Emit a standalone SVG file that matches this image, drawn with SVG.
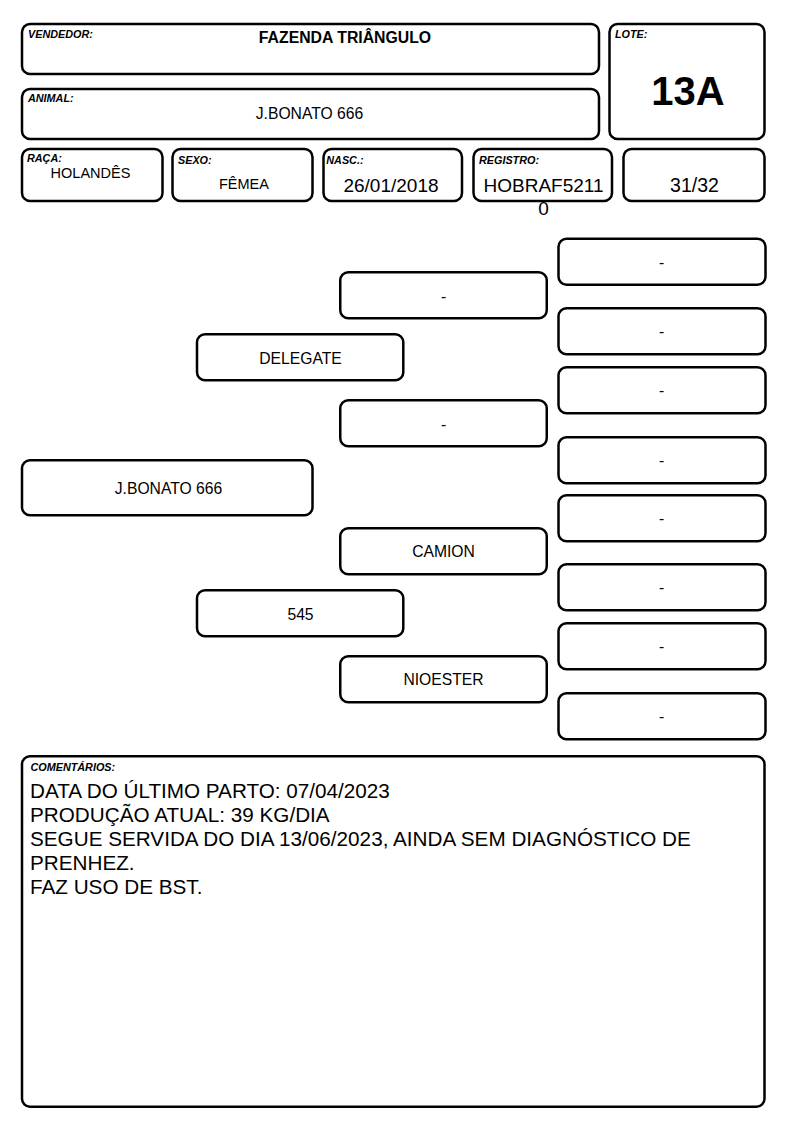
<svg xmlns="http://www.w3.org/2000/svg" width="794" height="1123" viewBox="0 0 794 1123">
<style>
.b{fill:#fff;stroke:#000;stroke-width:2.5}
.lb{font-family:"Liberation Sans",Arial,sans-serif;font-weight:bold;font-style:italic;font-size:10.8px;fill:#000}
.t{font-family:"Liberation Sans",Arial,sans-serif;font-size:15.7px;fill:#000;text-anchor:middle}
.m{font-family:"Liberation Sans",Arial,sans-serif;font-size:19px;fill:#000;text-anchor:middle}
.s{font-family:"Liberation Sans",Arial,sans-serif;font-size:14.5px;fill:#000;text-anchor:middle}
.c{font-family:"Liberation Sans",Arial,sans-serif;font-size:20.7px;fill:#000}
</style>
<rect width="794" height="1123" fill="#fff"/>
<g id="vendedor"><rect class="b" x="22" y="24" width="577" height="50" rx="8"/><text class="lb" x="28" y="38.3">VENDEDOR:</text><text class="t" x="345" y="43" style="font-weight:bold;font-size:15.8px">FAZENDA TRIÂNGULO</text></g>
<g id="animal"><rect class="b" x="22" y="89" width="577" height="50" rx="8"/><text class="lb" x="28" y="102.3">ANIMAL:</text><text class="t" x="309.5" y="119.3">J.BONATO 666</text></g>
<g id="lote"><rect class="b" x="609.5" y="24" width="155" height="115" rx="8"/><text class="lb" x="615" y="38.3">LOTE:</text><text class="t" x="688" y="105" style="font-weight:bold;font-size:40px">13A</text></g>
<g id="raca"><rect class="b" x="22" y="149" width="140.5" height="52" rx="8"/><text class="lb" x="27" y="162.3">RAÇA:</text><text class="s" x="90.5" y="177.5">HOLANDÊS</text></g>
<g id="sexo"><rect class="b" x="172.5" y="149" width="140" height="52" rx="8"/><text class="lb" x="178" y="164.3">SEXO:</text><text class="s" x="244" y="188.5">FÊMEA</text></g>
<g id="nasc"><rect class="b" x="323.5" y="149" width="138.5" height="52" rx="8"/><text class="lb" x="326.3" y="164.3">NASC.:</text><text class="m" x="391" y="191.7">26/01/2018</text></g>
<g id="registro"><rect class="b" x="473.5" y="149" width="138.5" height="52" rx="8"/><text class="lb" x="479" y="164.3">REGISTRO:</text><text class="m" x="543.5" y="191.7">HOBRAF5211</text><text class="m" x="543.5" y="214.5">0</text></g>
<g id="fracao"><rect class="b" x="623.5" y="149" width="141" height="52" rx="8"/><text class="m" x="694.5" y="192.3" style="font-size:19.5px">31/32</text></g>
<g id="connectors"/>
<g id="p-animal"><rect class="b" x="22" y="460.25" width="290.5" height="55" rx="8"/><text class="t" x="168.5" y="494">J.BONATO 666</text></g>
<g id="p-pai"><rect class="b" x="197" y="334.25" width="206.3" height="46" rx="8"/><text class="t" x="300.5" y="363.5">DELEGATE</text></g>
<g id="p-mae"><rect class="b" x="197" y="590.25" width="206.3" height="46" rx="8"/><text class="t" x="300.5" y="619.5">545</text></g>
<g id="p-avo1"><rect class="b" x="340.25" y="272.25" width="206.5" height="46" rx="8"/><text class="t" x="443.5" y="301.5">-</text></g>
<g id="p-avo2"><rect class="b" x="340.25" y="400.25" width="206.5" height="46" rx="8"/><text class="t" x="443.5" y="429.5">-</text></g>
<g id="p-avo3"><rect class="b" x="340.25" y="528.25" width="206.5" height="46" rx="8"/><text class="t" x="443.5" y="557">CAMION</text></g>
<g id="p-avo4"><rect class="b" x="340.25" y="656.25" width="206.5" height="46" rx="8"/><text class="t" x="443.5" y="685">NIOESTER</text></g>
<g id="p-bis1"><rect class="b" x="558.5" y="238.75" width="207" height="46" rx="8"/><text class="t" x="661.5" y="267.5">-</text></g>
<g id="p-bis2"><rect class="b" x="558.5" y="308.25" width="207" height="46" rx="8"/><text class="t" x="661.5" y="337">-</text></g>
<g id="p-bis3"><rect class="b" x="558.5" y="367.25" width="207" height="46" rx="8"/><text class="t" x="661.5" y="396">-</text></g>
<g id="p-bis4"><rect class="b" x="558.5" y="437.25" width="207" height="46" rx="8"/><text class="t" x="661.5" y="466">-</text></g>
<g id="p-bis5"><rect class="b" x="558.5" y="495.25" width="207" height="46" rx="8"/><text class="t" x="661.5" y="524">-</text></g>
<g id="p-bis6"><rect class="b" x="558.5" y="564.25" width="207" height="46" rx="8"/><text class="t" x="661.5" y="593">-</text></g>
<g id="p-bis7"><rect class="b" x="558.5" y="623.25" width="207" height="46" rx="8"/><text class="t" x="661.5" y="652">-</text></g>
<g id="p-bis8"><rect class="b" x="558.5" y="693.25" width="207" height="46" rx="8"/><text class="t" x="661.5" y="722">-</text></g>
<g id="comentarios"><rect class="b" x="22" y="756.25" width="742.5" height="350.5" rx="8"/><text class="lb" x="30.5" y="770.7">COMENTÁRIOS:</text>
<text class="c" x="30"><tspan x="30" y="798">DATA DO ÚLTIMO PARTO: 07/04/2023</tspan><tspan x="30" y="822">PRODUÇÃO ATUAL: 39 KG/DIA</tspan><tspan x="30" y="846">SEGUE SERVIDA DO DIA 13/06/2023, AINDA SEM DIAGNÓSTICO DE</tspan><tspan x="30" y="870">PRENHEZ.</tspan><tspan x="30" y="894">FAZ USO DE BST.</tspan></text></g>
</svg>
